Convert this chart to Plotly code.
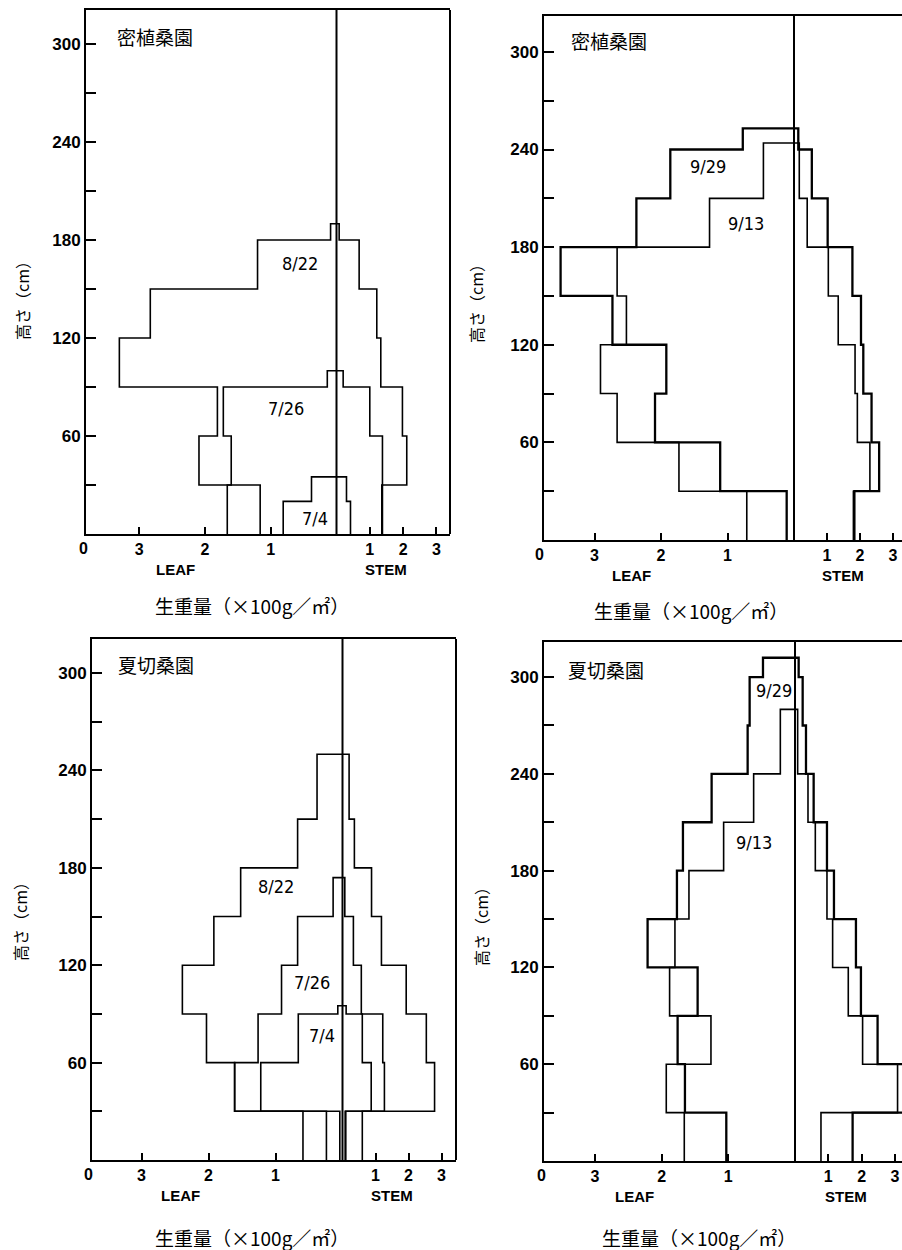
import plotly.graph_objects as go

W, H = 902, 1250

# ---------------- data (heights in cm, weights in x100 g/m2) ----------------
# Panel 1: 密植桑園 (top-left)
P1_H_0822 = [0, 30, 60, 90, 120, 150, 180, 190]
P1_LEAF_0822 = [1.16, 2.09, 1.81, 3.30, 2.83, 1.20, 0.09]
P1_STEM_0822 = [1.38, 2.11, 1.98, 1.33, 1.21, 0.68, 0.08]
P1_H_0726 = [0, 30, 60, 90, 100]
P1_LEAF_0726 = [1.66, 1.60, 1.72, 0.14]
P1_STEM_0726 = [1.36, 1.38, 1.00, 0.20]
P1_H_0704 = [0, 20, 35]
P1_LEAF_0704 = [0.81, 0.38]
P1_STEM_0704 = [0.42, 0.30]

# Panel 2: 密植桑園 (top-right)
P2_H_0929 = [0, 30, 60, 90, 120, 150, 180, 210, 240, 253]
P2_LEAF_0929 = [0.11, 1.11, 2.09, 1.92, 2.73, 3.51, 2.37, 1.86, 0.77]
P2_STEM_0929 = [1.83, 2.58, 2.35, 2.10, 2.03, 1.77, 1.02, 0.54, 0.13]
P2_H_0913 = [0, 30, 60, 90, 120, 150, 180, 210, 244]
P2_LEAF_0913 = [0.71, 1.73, 2.66, 2.91, 2.52, 2.66, 1.27, 0.46]
P2_STEM_0913 = [1.80, 2.30, 1.92, 1.85, 1.34, 1.04, 0.40, 0.16]

# Panel 3: 夏切桑園 (bottom-left)
P3_H_0822 = [0, 30, 60, 90, 120, 150, 180, 210, 250]
P3_LEAF_0822 = [0.59, 1.61, 2.03, 2.39, 1.92, 1.52, 0.67, 0.38]
P3_STEM_0822 = [0.60, 2.79, 2.54, 1.93, 1.18, 0.88, 0.36, 0.20]
P3_H_0726 = [0, 30, 60, 90, 120, 150, 174]
P3_LEAF_0726 = [0.24, 1.61, 1.26, 0.91, 0.67, 0.14]
P3_STEM_0726 = [0.10, 1.27, 1.22, 0.57, 0.33, 0.07]
P3_H_0704 = [0, 30, 60, 90, 95]
P3_LEAF_0704 = [0.04, 1.22, 0.66, 0.07]
P3_STEM_0704 = [0.08, 0.87, 0.60, 0.11]

# Panel 4: 夏切桑園 (bottom-right)
P4_H_0929 = [0, 30, 60, 90, 120, 150, 180, 210, 240, 270, 300, 312]
P4_LEAF_0929 = [1.03, 1.65, 1.76, 1.46, 2.21, 1.77, 1.68, 1.25, 0.71, 0.68, 0.48]
P4_STEM_0929 = [1.73, 3.40, 2.48, 1.98, 1.83, 1.17, 0.96, 0.56, 0.33, 0.23, 0.11]
P4_H_0913 = [0, 30, 60, 90, 120, 150, 180, 210, 240, 280]
P4_LEAF_0913 = [1.66, 1.93, 1.26, 1.88, 1.80, 1.59, 1.07, 0.62, 0.22]
P4_STEM_0913 = [0.78, 3.08, 2.03, 1.60, 1.13, 0.96, 0.61, 0.39, 0.08]

LEAF_TICKS = [3, 2, 1]
STEM_TICKS = [1, 2, 3]
Y_TICK_STEP = 30
Y_LABELS = [60, 120, 180, 240, 300]

PANEL_TITLES = ["密植桑園", "密植桑園", "夏切桑園", "夏切桑園"]
Y_TITLE = "高さ（cm）"
X_TITLE = "生重量（×100g／㎡）"

# ---------------- helpers ----------------
def fx(p):
    return p / W


def fy(p):
    return 1 - p / H


TICK_FONT = dict(family="Liberation Sans", size=16, color="black", weight="bold")
LABEL_FONT = dict(family="Liberation Sans", size=15, color="black", weight="bold")

# panel geometry (pixel positions)
panels = [
    dict(left=86, center=336.5, right=450, top=10, bottom=534, leaf_ppu=65.8, stem_ppu=33.3, y_ppu=1.633,
         xl="x", xs="x2", y="y", frame_right=True,
         title=(115, 37), zero=(83, 548), leaf_lbl=(175, 569), stem_lbl=(386, 569),
         xtitle=(252, 605), ytitle=(22, 297),
         profiles=[(P1_H_0822, P1_LEAF_0822, P1_STEM_0822, 1.6),
                   (P1_H_0726, P1_LEAF_0726, P1_STEM_0726, 1.6),
                   (P1_H_0704, P1_LEAF_0704, P1_STEM_0704, 1.6)],
         dates=[("8/22", 300, 263), ("7/26", 286, 408), ("7/4", 315, 518)]),
    dict(left=544, center=794, right=902, top=16, bottom=540, leaf_ppu=66.5, stem_ppu=33.0, y_ppu=1.627,
         xl="x3", xs="x4", y="y2", frame_right=False,
         title=(569, 40), zero=(539, 554), leaf_lbl=(631, 575), stem_lbl=(843, 575),
         xtitle=(691, 610), ytitle=(476, 300),
         profiles=[(P2_H_0929, P2_LEAF_0929, P2_STEM_0929, 2.3),
                   (P2_H_0913, P2_LEAF_0913, P2_STEM_0913, 1.6)],
         dates=[("9/29", 708, 167), ("9/13", 746, 223)]),
    dict(left=92, center=342.5, right=456, top=639, bottom=1160, leaf_ppu=67.0, stem_ppu=33.0, y_ppu=1.623,
         xl="x5", xs="x6", y="y3", frame_right=True,
         title=(116, 664), zero=(88, 1174), leaf_lbl=(180, 1195), stem_lbl=(392, 1195),
         xtitle=(252, 1237), ytitle=(20, 918),
         profiles=[(P3_H_0822, P3_LEAF_0822, P3_STEM_0822, 1.6),
                   (P3_H_0726, P3_LEAF_0726, P3_STEM_0726, 1.6),
                   (P3_H_0704, P3_LEAF_0704, P3_STEM_0704, 1.6)],
         dates=[("8/22", 276, 886), ("7/26", 312, 982), ("7/4", 322, 1035)]),
    dict(left=544, center=795, right=902, top=642, bottom=1161, leaf_ppu=66.7, stem_ppu=33.3, y_ppu=1.613,
         xl="x7", xs="x8", y="y4", frame_right=False,
         title=(566, 669), zero=(541, 1175), leaf_lbl=(634, 1196), stem_lbl=(846, 1196),
         xtitle=(699, 1237), ytitle=(481, 922),
         profiles=[(P4_H_0929, P4_LEAF_0929, P4_STEM_0929, 2.3),
                   (P4_H_0913, P4_LEAF_0913, P4_STEM_0913, 1.6)],
         dates=[("9/29", 774, 690), ("9/13", 754, 842)]),
]

fig = go.Figure()
layout = dict(
    width=W, height=H, margin=dict(l=0, r=0, t=0, b=0),
    paper_bgcolor="white", plot_bgcolor="white", showlegend=False,
    shapes=[], annotations=[],
)

y_vals = list(range(0, 301, Y_TICK_STEP))
y_text = [str(v) if v in Y_LABELS else "" for v in y_vals]

for i, p in enumerate(panels):
    xl_key = "xaxis" if p["xl"] == "x" else "xaxis" + p["xl"][1:]
    xs_key = "xaxis" + p["xs"][1:]
    y_key = "yaxis" if p["y"] == "y" else "yaxis" + p["y"][1:]

    leaf_max = (p["center"] - p["left"]) / p["leaf_ppu"]
    stem_max = (p["right"] - p["center"]) / p["stem_ppu"]
    y_max = (p["bottom"] - p["top"]) / p["y_ppu"]

    common_x = dict(showline=True, linecolor="black", linewidth=2, mirror=True,
                    ticks="inside", ticklen=7, tickwidth=2, tickcolor="black",
                    showgrid=False, zeroline=False, tickfont=TICK_FONT,
                    anchor=p["y"], fixedrange=True)
    layout[xl_key] = dict(common_x, domain=[fx(p["left"]), fx(p["center"])],
                          range=[leaf_max, 0], tickvals=LEAF_TICKS,
                          ticktext=[str(v) for v in LEAF_TICKS])
    layout[xs_key] = dict(common_x, domain=[fx(p["center"]), fx(p["right"])],
                          range=[0, stem_max], tickvals=STEM_TICKS,
                          ticktext=[str(v) for v in STEM_TICKS])
    layout[y_key] = dict(domain=[fy(p["bottom"]), fy(p["top"])], range=[0, y_max],
                         anchor=p["xl"], showline=True, linecolor="black", linewidth=2,
                         ticks="inside", ticklen=10, tickwidth=2, tickcolor="black",
                         tickvals=y_vals, ticktext=y_text,
                         tickfont=dict(TICK_FONT, size=17),
                         showgrid=False, zeroline=False, fixedrange=True)

    for bounds, leaf, stem, lw in p["profiles"]:
        fig.add_trace(go.Scatter(x=list(leaf) + [0], y=bounds, mode="lines",
                                 line=dict(shape="vh", color="black", width=lw),
                                 xaxis=p["xl"], yaxis=p["y"], hoverinfo="skip"))
        fig.add_trace(go.Scatter(x=list(stem) + [0], y=bounds, mode="lines",
                                 line=dict(shape="vh", color="black", width=lw),
                                 xaxis=p["xs"], yaxis=p["y"], hoverinfo="skip"))

    # centre line (paper-referenced so it is not clipped at the domain edge)
    layout["shapes"].append(dict(type="line", xref="paper", yref="paper",
                                 x0=fx(p["center"]), x1=fx(p["center"]),
                                 y0=fy(p["bottom"]), y1=fy(p["top"]),
                                 line=dict(color="black", width=2)))
    if p["frame_right"]:
        layout["shapes"].append(dict(type="line", xref="paper", yref="paper",
                                     x0=fx(p["right"]), x1=fx(p["right"]),
                                     y0=fy(p["bottom"]), y1=fy(p["top"]),
                                     line=dict(color="black", width=2)))

    ann = layout["annotations"]
    ann.append(dict(text=PANEL_TITLES[i], x=fx(p["title"][0]), y=fy(p["title"][1]),
                    xref="paper", yref="paper", xanchor="left", yanchor="middle",
                    showarrow=False,
                    font=dict(family="Noto Sans CJK JP", size=19, color="black")))
    ann.append(dict(text="0", x=fx(p["zero"][0]), y=fy(p["zero"][1]),
                    xref="paper", yref="paper", xanchor="center", yanchor="middle",
                    showarrow=False, font=TICK_FONT))
    for t, key in (("LEAF", "leaf_lbl"), ("STEM", "stem_lbl")):
        ann.append(dict(text=t, x=fx(p[key][0]), y=fy(p[key][1]),
                        xref="paper", yref="paper", xanchor="center", yanchor="middle",
                        showarrow=False, font=LABEL_FONT))
    ann.append(dict(text=X_TITLE, x=fx(p["xtitle"][0]), y=fy(p["xtitle"][1]),
                    xref="paper", yref="paper", xanchor="center", yanchor="middle",
                    showarrow=False,
                    font=dict(family="Noto Sans CJK JP", size=19, color="black")))
    ann.append(dict(text=Y_TITLE, x=fx(p["ytitle"][0]), y=fy(p["ytitle"][1]),
                    xref="paper", yref="paper", xanchor="center", yanchor="middle",
                    textangle=-90, showarrow=False,
                    font=dict(family="Noto Sans CJK JP", size=16, color="#000000")))
    for t, dx, dy in p["dates"]:
        ann.append(dict(text=t, x=fx(dx), y=fy(dy), xref="paper", yref="paper",
                        xanchor="center", yanchor="middle", showarrow=False,
                        font=dict(family="DejaVu Sans Condensed, DejaVu Sans", size=18, color="black")))

fig.update_layout(**layout)
fig.write_html("out.html")
